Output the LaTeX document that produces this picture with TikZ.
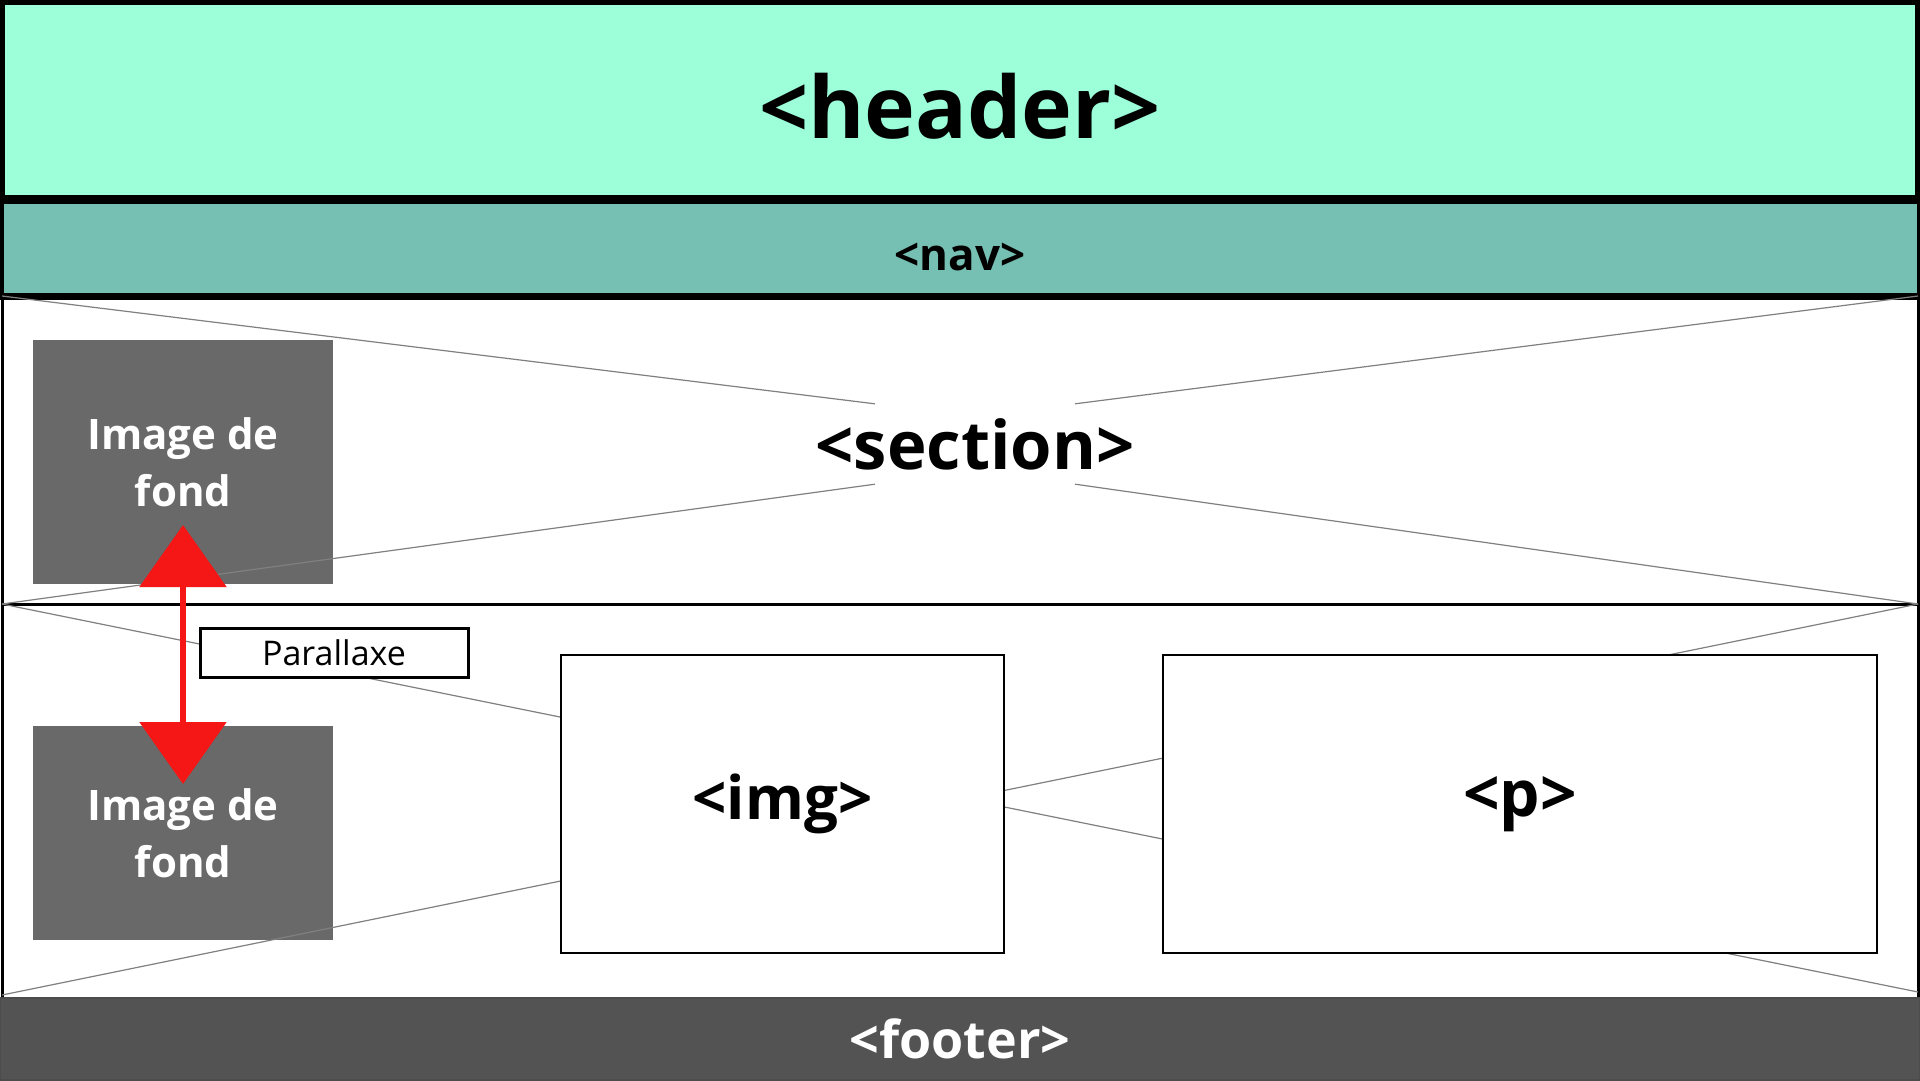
\documentclass[tikz,border=0pt]{standalone}
\usepackage{fontspec}
\setmainfont{Open Sans}
\usepackage{tikz}
\usetikzlibrary{shapes.geometric, arrows.meta, positioning, calc}
\definecolor{headergreen}{HTML}{9CFFDA}
\definecolor{navgreen}{HTML}{76BFB3}
\definecolor{bggray}{HTML}{696969}
\definecolor{footgray}{HTML}{535353}
\definecolor{crossgray}{HTML}{808080}
\definecolor{arrowred}{HTML}{F51616}
\tikzstyle{band} = [rectangle, inner sep=0pt, outer sep=0pt, text centered]
\tikzstyle{headerband} = [band, minimum width=1920pt, minimum height=200pt, draw=black, line width=10pt, fill=headergreen, font=\fontsize{86}{100}\selectfont\bfseries]
\tikzstyle{navband} = [band, minimum width=1920pt, minimum height=96pt, draw=black, line width=7pt, fill=navgreen, font=\fontsize{44}{50}\selectfont\bfseries]
\tikzstyle{sectionband} = [band, minimum width=1916pt, draw=black, line width=3pt, fill=white]
\tikzstyle{footerband} = [band, minimum width=1920pt, minimum height=82pt, draw=black!70, line width=1.5pt, fill=footgray, text=white, font=\fontsize{52}{60}\selectfont\bfseries]
\tikzstyle{bgimage} = [rectangle, inner sep=0pt, outer sep=0pt, minimum width=300pt, fill=bggray, text=white, align=center, font=\fontsize{42}{57}\selectfont\bfseries]
\tikzstyle{block} = [rectangle, inner sep=0pt, outer sep=0pt, draw=black, line width=2.5pt, fill=white, font=\fontsize{60}{70}\selectfont\bfseries]
\tikzstyle{tag} = [rectangle, inner sep=0pt, outer sep=0pt, minimum width=268pt, minimum height=49pt, draw=black, line width=3pt, fill=white, font=\fontsize{34}{40}\selectfont]
\tikzstyle{cross} = [draw=crossgray, line width=1.2pt]
\tikzstyle{arrow} = [line width=6pt, draw=arrowred, {Triangle[length=62pt, width=86pt]}-{Triangle[length=62pt, width=86pt]}]

\begin{document}
\begin{tikzpicture}[x=1pt, y=-1pt, node distance=0pt]
\useasboundingbox (0,0) rectangle (1920,1080);

\node (header) [headerband] at (960,100) {\raisebox{-6pt}[\height][\depth]{<header>}};
\node (nav) [navband, below=of header] {\raisebox{-9pt}[\height][\depth]{<nav>}};
\node (sec1) [sectionband, minimum height=308pt, below=of nav] {};
\node (sec2) [sectionband, minimum height=394pt, below=of sec1] {};
\node (footer) [footerband, below=of sec2] {<footer>};
\draw [black, line width=7pt] (nav.south west) -- (nav.south east);

\node (bgimg1) [bgimage, minimum height=244pt] at (183,462) {Image de\\fond};
\node (bgimg2) [bgimage, minimum height=214pt] at (183,833) {Image de\\fond};

% section label and its gap
\node (secgap) [rectangle, inner sep=0pt, minimum width=200pt, minimum height=80pt] at (975,444) {};
\node (seclabel) [font=\fontsize{67}{76}\selectfont\bfseries] at (secgap) {<section>};

\draw [cross] (sec1.north west) -- (secgap.north west);
\draw [cross] (sec1.north east) -- (secgap.north east);
\draw [cross] (sec1.south west) -- (secgap.south west);
\draw [cross] (sec1.south east) -- (secgap.south east);
\draw [cross] (sec2.north west) -- ($(sec2.south east)+(0,-6)$);
\draw [cross] ($(sec2.south west)+(0,-3)$) -- (sec2.north east);

\node (img) [block, minimum width=443pt, minimum height=298pt] at (782.5,804) {<img>};
\node (para) [block, minimum width=714pt, minimum height=298pt, font=\fontsize{64}{70}\selectfont\bfseries] at (1520,804) {<p>};
\node (parallaxe) [tag] at (334,652.5) {Parallaxe};

\coordinate (uptip) at (183,525);
\coordinate (downtip) at (183,784);
\draw [arrow] (uptip) -- (downtip);

\end{tikzpicture}
\end{document}
